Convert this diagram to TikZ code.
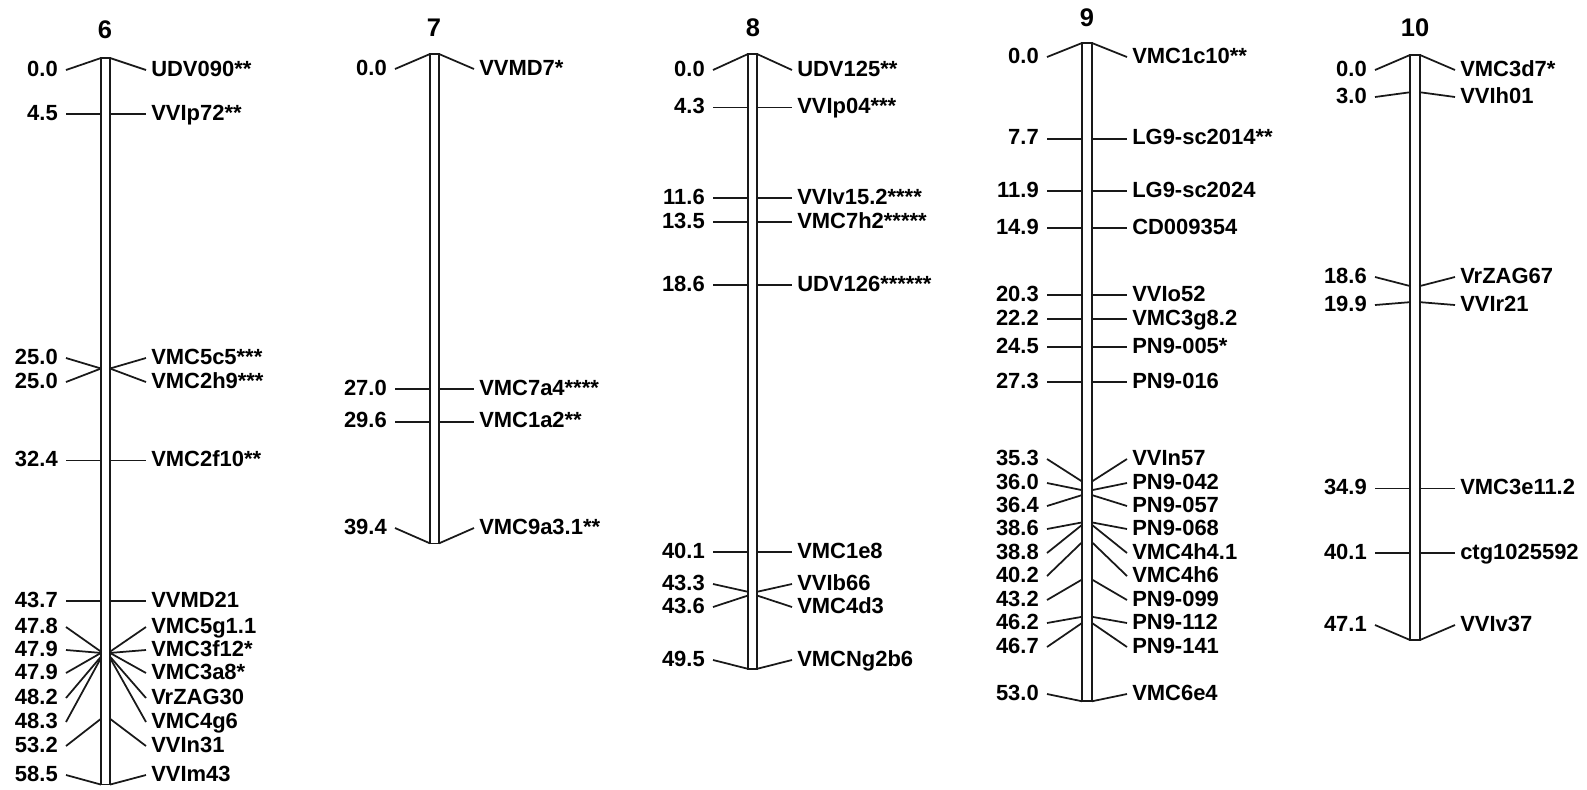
\documentclass[tikz,border=0pt]{standalone}
\usepackage{fontspec}
\setmainfont{Liberation Sans}
\usepackage{tikz}
\usetikzlibrary{positioning, calc}

\begin{document}
\begin{tikzpicture}[
    x=0.02cm, y=-0.02cm,
    lab/.style={font=\bfseries\fontsize{12.5}{14}\selectfont, text height=0.72em, text depth=0pt, inner ysep=0pt},
    num/.style={lab, anchor=east, inner xsep=4.5pt},
    mk/.style={lab, anchor=west, inner xsep=2.8pt},
    lgtitle/.style={font=\bfseries\fontsize{14.5}{16}\selectfont},
    tick/.style={draw=black!90, line width=1pt},
    bar/.style={draw=black!90, line width=0.9pt, fill=white}
]
    \useasboundingbox (0,0) rectangle (1587,789);

    % linkage group 6
    \node [lgtitle] (t6) at (105,30) {6};
    \draw [bar] (101,58) rectangle (110,{58+58.5*12.42});
    \foreach \c/\ly/\m [count=\i] in {0.0/70/UDV090**, 4.5/0/VVIp72**, 25.0/358/VMC5c5***, 25.0/382/VMC2h9***,
        32.4/0/VMC2f10**, 43.7/0/VVMD21, 47.8/627/VMC5g1.1, 47.9/650/VMC3f12*, 47.9/673/VMC3a8*,
        48.2/698/VrZAG30, 48.3/722/VMC4g6, 53.2/746/VVIn31, 58.5/775/VVIm43} {
        \pgfmathsetmacro\yb{58+\c*12.42}
        \pgfmathsetmacro\yl{\ly==0 ? \yb : \ly}
        \node [num] (n6-\i) at (66,\yl) {\c};
        \node [mk] (m6-\i) at (146,\yl) {\m};
        \draw [tick] (n6-\i.east) -- (101,\yb);
        \draw [tick] (110,\yb) -- (m6-\i.west);
    }

    % linkage group 7
    \node [lgtitle] (t7) at (434,28) {7};
    \draw [bar] (430,54) rectangle (439,{54+39.4*12.42});
    \foreach \c/\ly/\m [count=\i] in {0.0/69/VVMD7*, 27.0/0/VMC7a4****, 29.6/0/VMC1a2**, 39.4/528/VMC9a3.1**} {
        \pgfmathsetmacro\yb{54+\c*12.42}
        \pgfmathsetmacro\yl{\ly==0 ? \yb : \ly}
        \node [num] (n7-\i) at (395,\yl) {\c};
        \node [mk] (m7-\i) at (474,\yl) {\m};
        \draw [tick] (n7-\i.east) -- (430,\yb);
        \draw [tick] (439,\yb) -- (m7-\i.west);
    }

    % linkage group 8
    \node [lgtitle] (t8) at (753,28) {8};
    \draw [bar] (748,54) rectangle (757,{54+49.5*12.42});
    \foreach \c/\ly/\m [count=\i] in {0.0/70/UDV125**, 4.3/0/VVIp04***, 11.6/0/VVIv15.2****, 13.5/0/VMC7h2*****,
        18.6/0/UDV126******, 40.1/0/VMC1e8, 43.3/584/VVIb66, 43.6/607/VMC4d3, 49.5/660/VMCNg2b6} {
        \pgfmathsetmacro\yb{54+\c*12.42}
        \pgfmathsetmacro\yl{\ly==0 ? \yb : \ly}
        \node [num] (n8-\i) at (713,\yl) {\c};
        \node [mk] (m8-\i) at (792,\yl) {\m};
        \draw [tick] (n8-\i.east) -- (748,\yb);
        \draw [tick] (757,\yb) -- (m8-\i.west);
    }

    % linkage group 9
    \node [lgtitle] (t9) at (1087,18) {9};
    \draw [bar] (1082,43) rectangle (1092,{43+53.0*12.42});
    \foreach \c/\ly/\m [count=\i] in {0.0/57/VMC1c10**, 7.7/0/LG9-sc2014**, 11.9/0/LG9-sc2024, 14.9/0/CD009354,
        20.3/0/VVIo52, 22.2/0/VMC3g8.2, 24.5/0/PN9-005*, 27.3/0/PN9-016, 35.3/459/VVIn57, 36.0/483/PN9-042,
        36.4/506/PN9-057, 38.6/529/PN9-068, 38.8/553/VMC4h4.1, 40.2/576/VMC4h6, 43.2/600/PN9-099,
        46.2/623/PN9-112, 46.7/647/PN9-141, 53.0/694/VMC6e4} {
        \pgfmathsetmacro\yb{43+\c*12.42}
        \pgfmathsetmacro\yl{\ly==0 ? \yb : \ly}
        \node [num] (n9-\i) at (1047,\yl) {\c};
        \node [mk] (m9-\i) at (1127,\yl) {\m};
        \draw [tick] (n9-\i.east) -- (1082,\yb);
        \draw [tick] (1092,\yb) -- (m9-\i.west);
    }

    % linkage group 10
    \node [lgtitle] (t10) at (1415,28) {10};
    \draw [bar] (1410,55) rectangle (1420,{55+47.1*12.42});
    \foreach \c/\ly/\m [count=\i] in {0.0/70/VMC3d7*, 3.0/97/VVIh01, 18.6/277/VrZAG67, 19.9/305/VVIr21,
        34.9/0/VMC3e11.2, 40.1/0/ctg1025592, 47.1/625/VVIv37} {
        \pgfmathsetmacro\yb{55+\c*12.42}
        \pgfmathsetmacro\yl{\ly==0 ? \yb : \ly}
        \node [num] (n10-\i) at (1375,\yl) {\c};
        \node [mk] (m10-\i) at (1455,\yl) {\m};
        \draw [tick] (n10-\i.east) -- (1410,\yb);
        \draw [tick] (1420,\yb) -- (m10-\i.west);
    }
\end{tikzpicture}
\end{document}
